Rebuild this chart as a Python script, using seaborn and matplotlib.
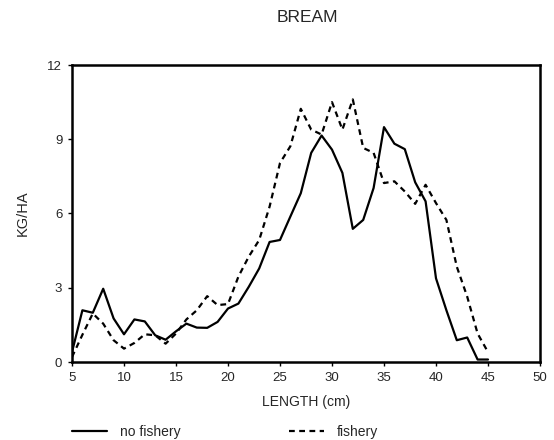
import pandas as pd
import seaborn as sns
import matplotlib.pyplot as plt

length_cm = list(range(5, 46))
no_fishery = [0.4, 2.09, 1.99, 2.96, 1.76, 1.12, 1.72, 1.64, 1.08, 0.9,
              1.24, 1.55, 1.39, 1.38, 1.62, 2.16, 2.36, 3.04, 3.78, 4.85,
              4.93, 5.88, 6.82, 8.45, 9.15, 8.58, 7.64, 5.38, 5.74, 7.03,
              9.49, 8.82, 8.6, 7.26, 6.49, 3.38, 2.09, 0.88, 0.99, 0.1,
              0.1]
fishery = [0.2, 1.1, 1.96, 1.55, 0.88, 0.54, 0.77, 1.12, 1.08, 0.74,
           1.15, 1.72, 2.09, 2.66, 2.3, 2.34, 3.45, 4.26, 4.93, 6.28,
           8.04, 8.72, 10.23, 9.39, 9.19, 10.5, 9.39, 10.61, 8.65, 8.45,
           7.23, 7.3, 6.89, 6.39, 7.16, 6.42, 5.74, 3.85, 2.64, 1.15,
           0.4]
series_labels = ['no fishery', 'fishery']

df = pd.DataFrame({
    'length': length_cm * 2,
    'kgha': no_fishery + fishery,
    'group': [series_labels[0]] * len(length_cm) + [series_labels[1]] * len(length_cm),
})

sns.set_style('ticks')
plt.rcParams['font.family'] = ['Liberation Sans', 'DejaVu Sans']

fig = plt.figure(figsize=(5.54, 4.40), dpi=100)
ax = fig.add_axes([72 / 554, 1 - 362 / 440, 468 / 554, 297 / 440])

sns.lineplot(data=df, x='length', y='kgha', style='group',
             dashes={'no fishery': '', 'fishery': (2.6, 2)},
             color='black', linewidth=1.6, legend=False, ax=ax)

ax.set_xlim(5, 50)
ax.set_ylim(0, 12)
ax.set_xticks(range(5, 51, 5))
ax.set_yticks([0, 3, 6, 9, 12])
ax.tick_params(labelsize=9.5, length=3, width=1, color='black', direction='out', pad=4)
for s in ax.spines.values():
    s.set_visible(True)
    s.set_linewidth(1.8)
    s.set_color('black')

ax.set_xlabel('LENGTH (cm)', fontsize=10, labelpad=8)
ax.set_ylabel('KG/HA', fontsize=10.5, labelpad=13)
fig.text(307 / 554, 1 - 18 / 440, 'BREAM', ha='center', va='center', fontsize=12.5)

handles = [plt.Line2D([], [], color='black', linewidth=1.6),
           plt.Line2D([], [], color='black', linewidth=1.6, dashes=(2.6, 2))]
fig.legend(handles, series_labels, loc='center left', ncol=2, frameon=False,
           bbox_to_anchor=(72 / 554, 1 - 432 / 440), fontsize=10,
           borderpad=0, borderaxespad=0,
           handlelength=2.5, columnspacing=7.8, handletextpad=0.95)

fig.savefig('out.png', dpi=100)
